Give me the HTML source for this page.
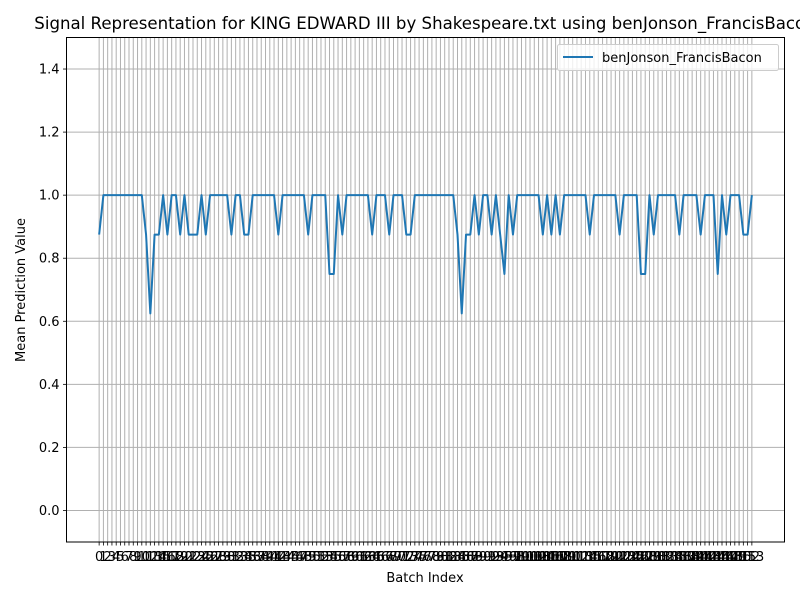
<!DOCTYPE html>
<html><head><meta charset="utf-8">
<style>
html,body{margin:0;padding:0;background:#fff;}
svg text{font-family:"DejaVu Sans","Liberation Sans",sans-serif;}
</style></head>
<body>
<svg id="chart" width="800" height="600" viewBox="0 0 800 600" xmlns="http://www.w3.org/2000/svg">
<rect width="800" height="600" fill="#fff"/>
<g id="grid"></g>
<g id="xticks"></g>
<g id="yticks"></g>
<path id="series" fill="none" stroke="#1f77b4" stroke-width="2" stroke-linejoin="round"/>
<rect x="66.5" y="37.5" width="718" height="504.5" fill="none" stroke="#000" stroke-width="1"/>
<text x="425" y="29" font-size="16.6" text-anchor="middle">Signal Representation for KING EDWARD III by Shakespeare.txt using benJonson_FrancisBacon</text>
<text x="425" y="582" font-size="13" text-anchor="middle">Batch Index</text>
<text transform="translate(25,290) rotate(-90)" font-size="13" text-anchor="middle">Mean Prediction Value</text>
<g>
<rect x="557.5" y="44.5" width="221" height="26" rx="2" fill="#fff" fill-opacity="0.8" stroke="#ccc"/>
<line x1="563" y1="57" x2="593" y2="57" stroke="#1f77b4" stroke-width="2"/>
<text x="602" y="62" font-size="13">benJonson_FrancisBacon</text>
</g>
</svg>
<script>
const values = [0.875,
1,1,1,1,1,1,1,1,1,1,
0.875,0.625,0.875,0.875,1,0.875,1,1,0.875,1,0.875,0.875,0.875,1,0.875,
1,1,1,1,1,0.875,1,1,0.875,0.875,
1,1,1,1,1,1,0.875,1,1,1,1,1,1,0.875,1,1,1,1,0.75,0.75,1,0.875,1,1,1,1,1,1,0.875,1,1,1,0.875,1,1,1,0.875,0.875,
1,1,1,1,1,1,1,1,1,1,0.875,0.625,0.875,0.875,1,0.875,1,1,0.875,1,0.875,0.75,1,0.875,1,1,1,1,1,1,0.875,1,0.875,1,0.875,
1,1,1,1,1,1,0.875,1,1,1,1,1,1,0.875,1,1,1,1,0.75,0.75,1,0.875,1,1,1,1,1,0.875,1,1,1,1,0.875,1,1,1,0.75,1,0.875,1,1,1,0.875,0.875,1];
const categories = values.map((v,i)=>i);
const yTicks = [0.0,0.2,0.4,0.6,0.8,1.0,1.2,1.4];
const yTickLabels = ["0.0","0.2","0.4","0.6","0.8","1.0","1.2","1.4"];

const NS="http://www.w3.org/2000/svg";
const L=66.5,R=784.5,T=37.5,B=542;
const xMin=-7.65, xMax=categories.length-1+7.65;
const yMin=-0.1, yMax=1.5;
function xs(v){return L+(v-xMin)/(xMax-xMin)*(R-L);}
function ys(v){return B-(v-yMin)/(yMax-yMin)*(B-T);}
function mk(tag,attrs,parent){const e=document.createElementNS(NS,tag);for(const k in attrs)e.setAttribute(k,attrs[k]);parent.appendChild(e);return e;}

const grid=document.getElementById('grid');
const xt=document.getElementById('xticks');
const yt=document.getElementById('yticks');
categories.forEach(c=>{
  const x=xs(c);
  const g=mk('line',{x1:x,x2:x,y1:T,y2:B,stroke:'#b0b0b0','stroke-width':1},grid);
  
  
  const t=mk('line',{x1:x,x2:x,y1:B,y2:B+3.5,stroke:'#000','stroke-width':0.8},xt);
  
  
  const l=mk('text',{x:x,y:B+19,'font-size':13,'text-anchor':'middle'},xt);
  l.textContent=String(c);
  
  
});
yTicks.forEach((v,i)=>{
  const y=ys(v);
  const g=mk('line',{x1:L,x2:R,y1:y,y2:y,stroke:'#b0b0b0','stroke-width':1},grid);
  
  
  const t=mk('line',{x1:L-3.5,x2:L,y1:y,y2:y,stroke:'#000','stroke-width':0.8},yt);
  
  
  const l=mk('text',{x:L-7,y:y+4.5,'font-size':13,'text-anchor':'end'},yt);
  l.textContent=yTickLabels[i];
  
  
});
document.getElementById('series').setAttribute('d',values.map((v,i)=>(i?'L':'M')+xs(categories[i]).toFixed(2)+','+ys(v).toFixed(2)).join(''));
</script>
</body></html>
